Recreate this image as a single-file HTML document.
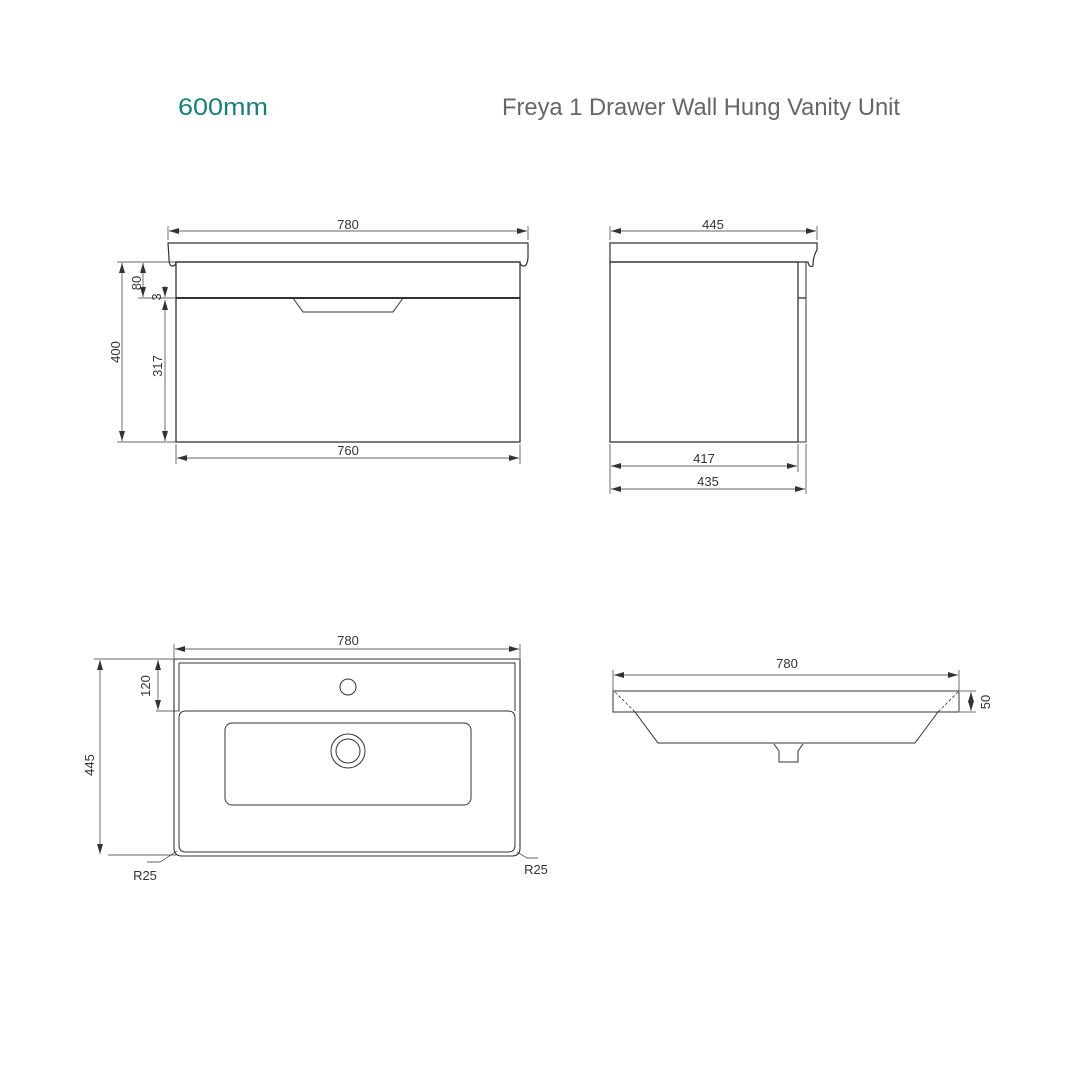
<!DOCTYPE html>
<html><head><meta charset="utf-8"><style>
html,body{margin:0;padding:0;background:#fff}
svg{display:block}
text{font-family:"Liberation Sans",sans-serif}
</style></head><body>
<svg width="1080" height="1080" viewBox="0 0 1080 1080" xmlns="http://www.w3.org/2000/svg">
<defs>
<marker id="a" viewBox="0 0 10 6" refX="10" refY="3" markerWidth="10" markerHeight="6" orient="auto-start-reverse" markerUnits="userSpaceOnUse"><path d="M0,0L10,3L0,6z" fill="#333"/></marker>
</defs>
<text x="178" y="115" font-size="24" fill="#1a7f74" textLength="90" lengthAdjust="spacingAndGlyphs">600mm</text>
<text x="502" y="115" font-size="24" fill="#666" textLength="398" lengthAdjust="spacingAndGlyphs">Freya 1 Drawer Wall Hung Vanity Unit</text>

<g stroke="#333" fill="none" stroke-width="1">
<line x1="168" y1="226" x2="168" y2="240" stroke-width="0.7"/><line x1="528" y1="226" x2="528" y2="240" stroke-width="0.7"/>
<line x1="169" y1="231" x2="527" y2="231" marker-start="url(#a)" marker-end="url(#a)" stroke-width="0.7"/>
<path d="M168,243 L528,243 L528,258 Q527,266 524,266 Q520,266 520,262 L176,262 Q176,266 172,266 Q169,266 169,258 Z" stroke-width="1.2"/>
<rect x="176" y="262" width="344" height="180" stroke-width="1.3"/>
<line x1="176" y1="298" x2="520" y2="298" stroke-width="2"/>
<path d="M293,298 L303,312 L393,312 L403,298" stroke-width="1"/>
<line x1="117" y1="262" x2="176" y2="262" stroke-width="0.7"/><line x1="117" y1="442" x2="176" y2="442" stroke-width="0.7"/>
<line x1="122" y1="263" x2="122" y2="441" marker-start="url(#a)" marker-end="url(#a)" stroke-width="0.7"/>
<line x1="143" y1="263" x2="143" y2="297" marker-start="url(#a)" marker-end="url(#a)" stroke-width="0.7"/>
<line x1="138" y1="298" x2="176" y2="298" stroke-width="0.7"/>
<line x1="165" y1="286" x2="165" y2="297" marker-end="url(#a)" stroke-width="0.7"/>
<line x1="165" y1="300" x2="165" y2="441" marker-start="url(#a)" marker-end="url(#a)" stroke-width="0.7"/>
<line x1="176" y1="444" x2="176" y2="464" stroke-width="0.7"/><line x1="520" y1="444" x2="520" y2="464" stroke-width="0.7"/>
<line x1="177" y1="458" x2="519" y2="458" marker-start="url(#a)" marker-end="url(#a)" stroke-width="0.7"/>

<line x1="610" y1="226" x2="610" y2="240" stroke-width="0.7"/><line x1="817" y1="226" x2="817" y2="240" stroke-width="0.7"/>
<line x1="611" y1="231" x2="816" y2="231" marker-start="url(#a)" marker-end="url(#a)" stroke-width="0.7"/>
<path d="M610,243 L817,243 L817,250 Q813,256 813,266 Q809,268 808,262 L610,262 Z" stroke-width="1.2"/>
<rect x="610" y="262" width="188" height="180" stroke-width="1.3"/>
<rect x="798" y="262" width="8" height="180" stroke-width="1"/>
<line x1="798" y1="298" x2="806" y2="298" stroke-width="1.3"/>
<line x1="610" y1="444" x2="610" y2="494" stroke-width="0.7"/><line x1="798" y1="444" x2="798" y2="472" stroke-width="0.7"/><line x1="806" y1="444" x2="806" y2="494" stroke-width="0.7"/>
<line x1="611" y1="466" x2="797" y2="466" marker-start="url(#a)" marker-end="url(#a)" stroke-width="0.7"/>
<line x1="611" y1="489" x2="805" y2="489" marker-start="url(#a)" marker-end="url(#a)" stroke-width="0.7"/>

<line x1="174" y1="644" x2="174" y2="658" stroke-width="0.7"/><line x1="520" y1="644" x2="520" y2="658" stroke-width="0.7"/>
<line x1="175" y1="649" x2="519" y2="649" marker-start="url(#a)" marker-end="url(#a)" stroke-width="0.7"/>
<path d="M174,659 L520,659 L520,848 Q520,856 512,856 L182,856 Q174,856 174,848 Z" stroke-width="1.1"/>
<path d="M179,663 L515,663 L515,711" stroke-width="1"/><path d="M179,663 L179,711" stroke-width="1"/>
<path d="M179,718 Q179,711 186,711 L508,711 Q515,711 515,718 L515,845 Q515,852 508,852 L186,852 Q179,852 179,845 Z" stroke-width="1"/>
<circle cx="348" cy="687" r="8" stroke-width="1"/>
<rect x="225" y="723" width="246" height="82" rx="7" stroke-width="1"/>
<circle cx="348" cy="751" r="17" stroke-width="1"/><circle cx="348" cy="751" r="12" stroke-width="1"/>
<line x1="94" y1="659" x2="174" y2="659" stroke-width="0.7"/>
<line x1="108" y1="855" x2="176" y2="855" stroke-width="0.7"/>
<line x1="100" y1="660" x2="100" y2="854" marker-start="url(#a)" marker-end="url(#a)" stroke-width="0.7"/>
<line x1="156" y1="711" x2="180" y2="711" stroke-width="0.7"/>
<line x1="158" y1="660" x2="158" y2="710" marker-start="url(#a)" marker-end="url(#a)" stroke-width="0.7"/>
<path d="M147,862 L160,862 L177,851" stroke-width="0.7"/>
<path d="M517,852 L527,858 L538,858" stroke-width="0.7"/>

<line x1="613" y1="670" x2="613" y2="712" stroke-width="0.7"/><line x1="959" y1="670" x2="959" y2="691" stroke-width="0.7"/>
<line x1="614" y1="675" x2="958" y2="675" marker-start="url(#a)" marker-end="url(#a)" stroke-width="0.7"/>
<rect x="613" y="691" width="346" height="21" stroke-width="1"/>
<path d="M635,712 L658,743 L915,743 L938,712" stroke-width="1"/>
<line x1="615" y1="692" x2="635" y2="712" stroke-width="0.8" stroke-dasharray="3,2"/>
<line x1="958" y1="692" x2="938" y2="712" stroke-width="0.8" stroke-dasharray="3,2"/>
<path d="M774,744 L779,751 L779,762 L798,762 L798,751 L803,744" stroke-width="1"/>
<line x1="960" y1="691" x2="976" y2="691" stroke-width="0.7"/><line x1="960" y1="712" x2="976" y2="712" stroke-width="0.7"/>
<line x1="971" y1="692" x2="971" y2="711" marker-start="url(#a)" marker-end="url(#a)" stroke-width="0.7"/>
</g>

<g font-size="13" fill="#333" text-anchor="middle">
<text x="348" y="229">780</text>
<text x="348" y="455">760</text>
<text x="713" y="229">445</text>
<text x="704" y="463">417</text>
<text x="708" y="486">435</text>
<text x="348" y="645">780</text>
<text x="787" y="668">780</text>
<text x="145" y="880">R25</text>
<text x="536" y="874">R25</text>
<text transform="translate(120,352) rotate(-90)">400</text>
<text transform="translate(141,283) rotate(-90)">80</text>
<text transform="translate(161,297) rotate(-90)">3</text>
<text transform="translate(162,366) rotate(-90)">317</text>
<text transform="translate(150,686) rotate(-90)">120</text>
<text transform="translate(94,765) rotate(-90)">445</text>
<text transform="translate(990,702) rotate(-90)">50</text>
</g>
</svg>
</body></html>
